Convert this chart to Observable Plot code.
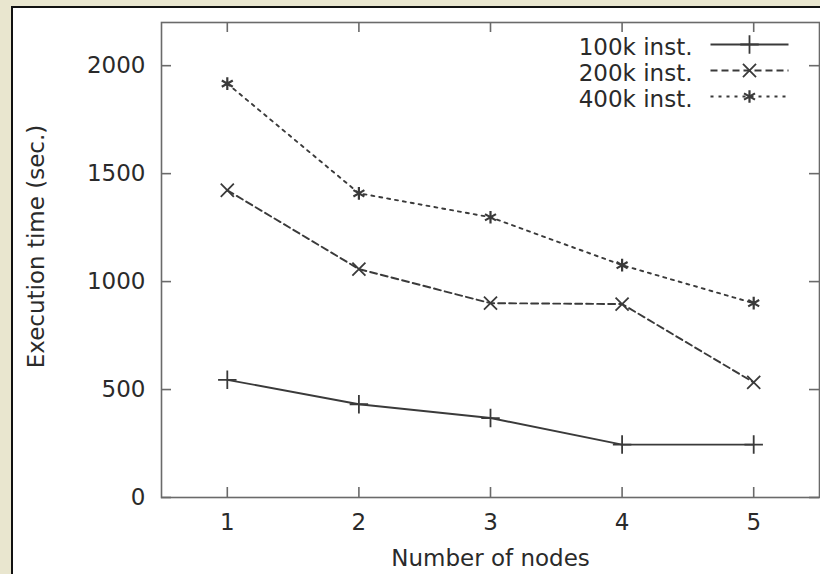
<!DOCTYPE html>
<html>
<head>
<meta charset="utf-8">
<script src="https://cdn.jsdelivr.net/npm/d3@7"></script>
<script src="https://cdn.jsdelivr.net/npm/@observablehq/plot@0.6"></script>
<style>
  html, body { margin: 0; padding: 0; background: #e9e6cf; width: 820px; height: 574px; overflow: hidden; }
  #panel { position: absolute; left: 11px; top: 6px; width: 809px; height: 568px; background: #fff;
           border-left: 2px solid #111; border-top: 2px solid #111; box-sizing: border-box; }
  #panel svg { display: block; }
</style>
</head>
<body>
<div id="panel"></div>
<script>
// ---- data ----
const nodes = [1, 2, 3, 4, 5];
const seriesNames = ["100k inst.", "200k inst.", "400k inst."];
const time100k = [545, 432, 368, 245, 245];
const time200k = [1423, 1058, 900, 896, 533];
const time400k = [1917, 1409, 1298, 1076, 900];
const yTicks = [0, 500, 1000, 1500, 2000];
const xTicks = [1, 2, 3, 4, 5];
const xLabel = "Number of nodes";
const yLabel = "Execution time (sec.)";

// ---- styles ----
const font = "DejaVu Sans, sans-serif";
const ink = "#2a2a2a";
const lineInk = "#3a3a3a";
const fs = 23;
const styles = [
  {dash: null, symbol: "plus", sw: 1.8},
  {dash: "7,4", symbol: "times", sw: 1.8},
  {dash: "3,5", symbol: "asterisk", sw: 2.2}
];
const seriesValues = [time100k, time200k, time400k];
const rows = [];
seriesNames.forEach((s, i) => nodes.forEach((n, j) => rows.push({series: s, idx: i, x: n, y: seriesValues[i][j]})));

const xDom = [0.5, 5.5], yDom = [0, 2200];
const W = 807, H = 566, mL = 148, mR = 1, mT = 14, mB = 77;
const pxX = (xDom[1] - xDom[0]) / (W - mL - mR);
const pxY = (yDom[1] - yDom[0]) / (H - mT - mB);
const tick = 10;

// legend layout (data units derived from pixel offsets)
const legX1 = xDom[1] - 109 * pxX, legX2 = xDom[1] - 31 * pxX, legXm = xDom[1] - 70 * pxX;
const legY = i => yDom[1] - (22 + 26 * i) * pxY;
// y-axis title position
const yLabX = xDom[0] - 125 * pxX;
const yLabY = yDom[1] - (238 - mT) * pxY;

const marks = [];
marks.push(Plot.frame({stroke: "#6a6a6a", strokeWidth: 1.6}));
marks.push(Plot.ruleY(yTicks, {y: d => d, x1: xDom[0], x2: xDom[0] + tick * pxX, stroke: "#6a6a6a", strokeWidth: 1.6}));
marks.push(Plot.ruleY(yTicks, {y: d => d, x1: xDom[1] - tick * pxX, x2: xDom[1], stroke: "#6a6a6a", strokeWidth: 1.6}));
marks.push(Plot.ruleX(xTicks, {x: d => d, y1: yDom[0], y2: yDom[0] + tick * pxY, stroke: "#6a6a6a", strokeWidth: 1.6}));
marks.push(Plot.ruleX(xTicks, {x: d => d, y1: yDom[1] - tick * pxY, y2: yDom[1], stroke: "#6a6a6a", strokeWidth: 1.6}));
marks.push(Plot.axisY(yTicks, {tickSize: 0, tickPadding: 16, fontSize: fs, fill: ink, label: null, tickFormat: d => String(d)}));
marks.push(Plot.axisX(xTicks, {tickSize: 0, tickPadding: 16, fontSize: fs, fill: ink, label: null, tickFormat: d => String(d)}));
marks.push(Plot.text([xLabel], {frameAnchor: "bottom", dy: 68, fontSize: fs, fill: ink}));
marks.push(Plot.text([yLabel], {x: yLabX, y: yLabY, rotate: -90, fontSize: fs, fill: ink}));

seriesNames.forEach((s, i) => {
  const data = rows.filter(r => r.idx === i);
  const st = styles[i];
  marks.push(Plot.line(data, {x: "x", y: "y", stroke: lineInk, strokeWidth: 1.9, strokeDasharray: st.dash}));
  marks.push(Plot.dot(data, {x: "x", y: "y", symbol: st.symbol, r: 6, stroke: lineInk, strokeWidth: st.sw}));
  marks.push(Plot.text([s], {frameAnchor: "top-right", dx: -127, dy: 16 + 26 * i, textAnchor: "end", fontSize: fs, fill: ink}));
  marks.push(Plot.link([s], {x1: legX1, x2: legX2, y1: legY(i), y2: legY(i), stroke: lineInk, strokeWidth: 1.9, strokeDasharray: st.dash}));
  marks.push(Plot.dot([s], {x: legXm, y: legY(i), symbol: st.symbol, r: 6, stroke: lineInk, strokeWidth: st.sw}));
});

const chart = Plot.plot({
  width: W, height: H,
  marginLeft: mL, marginRight: mR, marginTop: mT, marginBottom: mB,
  style: {fontFamily: font, background: "white", overflow: "visible"},
  x: {domain: xDom, axis: null},
  y: {domain: yDom, axis: null},
  marks
});
document.getElementById("panel").appendChild(chart);
</script>
</body>
</html>
